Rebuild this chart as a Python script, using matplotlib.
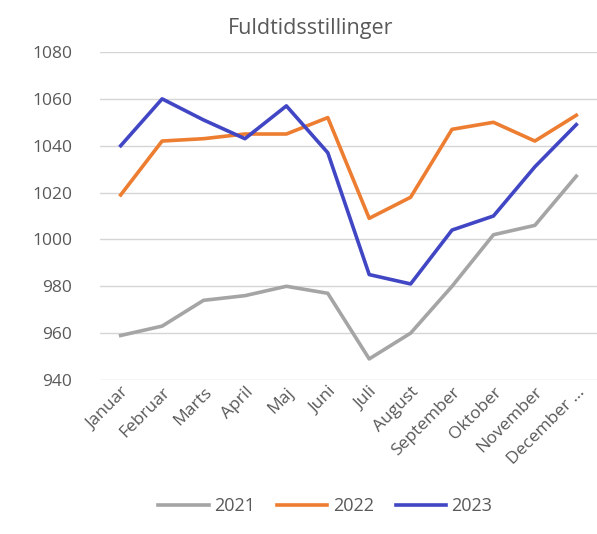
import matplotlib.pyplot as plt

months = ["Januar", "Februar", "Marts", "April", "Maj", "Juni", "Juli",
          "August", "September", "Oktober", "November", "December ..."]
years = ["2021", "2022", "2023"]
vals_2021 = [959, 963, 974, 976, 980, 977, 949, 960, 980, 1002, 1006, 1027]
vals_2022 = [1019, 1042, 1043, 1045, 1045, 1052, 1009, 1018, 1047, 1050, 1042, 1053]
vals_2023 = [1040, 1060, 1051, 1043, 1057, 1037, 985, 981, 1004, 1010, 1031, 1049]
colors = ["#A5A5A5", "#ED7D31", "#4146C4"]

plt.rcParams["font.family"] = ["Open Sans", "DejaVu Sans"]
txt = "#595959"

fig = plt.figure(figsize=(5.97, 5.34), dpi=100)
ax = fig.add_axes([0.1675, 0.2884, 0.8325, 0.6142])

x = range(len(months))
for series, label, c in zip([vals_2021, vals_2022, vals_2023], years, colors):
    ax.plot(x, series, color=c, linewidth=2.6, label=label, solid_joinstyle="round")

ax.set_xlim(-0.5, len(months) - 0.5)
ax.set_ylim(940, 1080)
ax.set_yticks(range(940, 1081, 20))
ax.grid(axis="y", color="#D5D5D5", linewidth=1)
ax.set_axisbelow(True)
for s in ax.spines.values():
    s.set_visible(False)
ax.tick_params(length=0, labelsize=12.5, colors=txt)
ax.tick_params(axis="y", pad=20)
ax.tick_params(axis="x", pad=3)
ax.set_xticks(list(x))
ax.set_xticklabels(months, rotation=45, ha="right", va="top", rotation_mode="anchor")

fig.text(0.52, 0.947, "Fuldtidsstillinger", ha="center", va="center",
         fontsize=15.5, color=txt)
fig.legend(loc="center", bbox_to_anchor=(0.545, 0.052), ncol=3, frameon=False,
           fontsize=13, labelcolor=txt, handlelength=2.8, columnspacing=1.2,
           handletextpad=0.3)

fig.savefig("out.png", dpi=100)
